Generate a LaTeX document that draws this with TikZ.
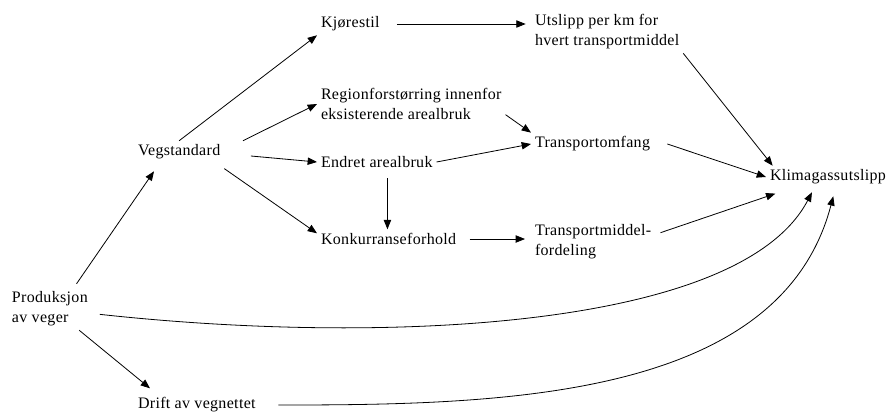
\documentclass[tikz,border=0pt]{standalone}
\usepackage{fontspec}
\setmainfont[LetterSpace=2]{Liberation Serif}
\usetikzlibrary{arrows.meta, positioning}

\tikzset{
  boks/.style={anchor=west, inner sep=0pt, outer sep=3pt, align=left,
    font=\fontsize{12}{15}\selectfont},
}

\begin{document}
\begin{tikzpicture}[x=0.75pt, y=-0.75pt, line width=0.6pt,
    > = {Triangle[length=7pt, width=5.5pt]}]
  \useasboundingbox (0,0) rectangle (887,412);

  % noder
  \node [boks] (prod)   at (8,309)   {Produksjon\\av veger};
  \node [boks] (veg)    at (134,152) {Vegstandard};
  \node [boks] (drift)  at (134,405) {Drift av vegnettet};
  \node [boks] (kjor)   at (317,24)  {Kjørestil};
  \node [boks] (region) at (317,104) {Regionforstørring innenfor\\eksisterende arealbruk};
  \node [boks] (endret) at (317,162) {Endret arealbruk};
  \node [boks] (konk)   at (317,239) {Konkurranseforhold};
  \node [boks] (utslipp) at (531,32) {Utslipp per km for\\hvert transportmiddel};
  \node [boks] (tomf)   at (531,144) {Transportomfang};
  \node [boks] (tmf)    at (531,242) {Transportmiddel-\\fordeling};
  \node [boks] (klima)  at (766,177) {Klimagassutslipp};

  % piler
  \draw [->] ([xshift=20pt, yshift=3pt]prod.north) -- ([xshift=15pt, yshift=-6pt]veg.south west);
  \draw [->] ([xshift=22pt]prod.south) -- ([xshift=12pt, yshift=4pt]drift.north west);
  \draw [->] (veg.north) -- (kjor.south west);
  \draw [->] ([xshift=14pt]veg.north east) -- (region.west);
  \draw [->] ([xshift=20pt, yshift=-3pt]veg.east) -- (endret.west);
  \draw [->] ([yshift=-4pt]veg.south east) -- ([yshift=-3pt]konk.north west);
  \draw [->, shorten <=10pt, shorten >=4pt] (kjor.east) -- (kjor.east -| utslipp.west);
  \draw [->] ([xshift=8pt, yshift=-5pt]endret.south) -- ([xshift=8pt]endret.south |- konk.north);
  \draw [->] (endret.east) -- (tomf.west);
  \draw [->] ([yshift=-8pt]region.east) -- (tomf.north west);
  \draw [->] ([xshift=7pt]konk.east) -- ([xshift=-4.5pt]konk.east -| tmf.west);
  \draw [->] (utslipp.south east) -- ([xshift=5pt]klima.north west);
  \draw [->] ([xshift=10pt]tomf.east) -- (klima.west);
  \draw [->] ([xshift=4pt, yshift=7pt]tmf.east) -- ([xshift=7pt, yshift=-4pt]klima.south west);

  % buer til klimagassutslipp
  \draw [->] ([xshift=6pt, yshift=-4pt]prod.east)
    .. controls (380,345) and (740,330) .. ([xshift=-12pt, yshift=-3pt]klima.south);
  \draw [->] ([xshift=14pt]drift.east)
    .. controls (500,405) and (780,400) .. ([xshift=4pt, yshift=-6pt]klima.south);
\end{tikzpicture}
\end{document}
